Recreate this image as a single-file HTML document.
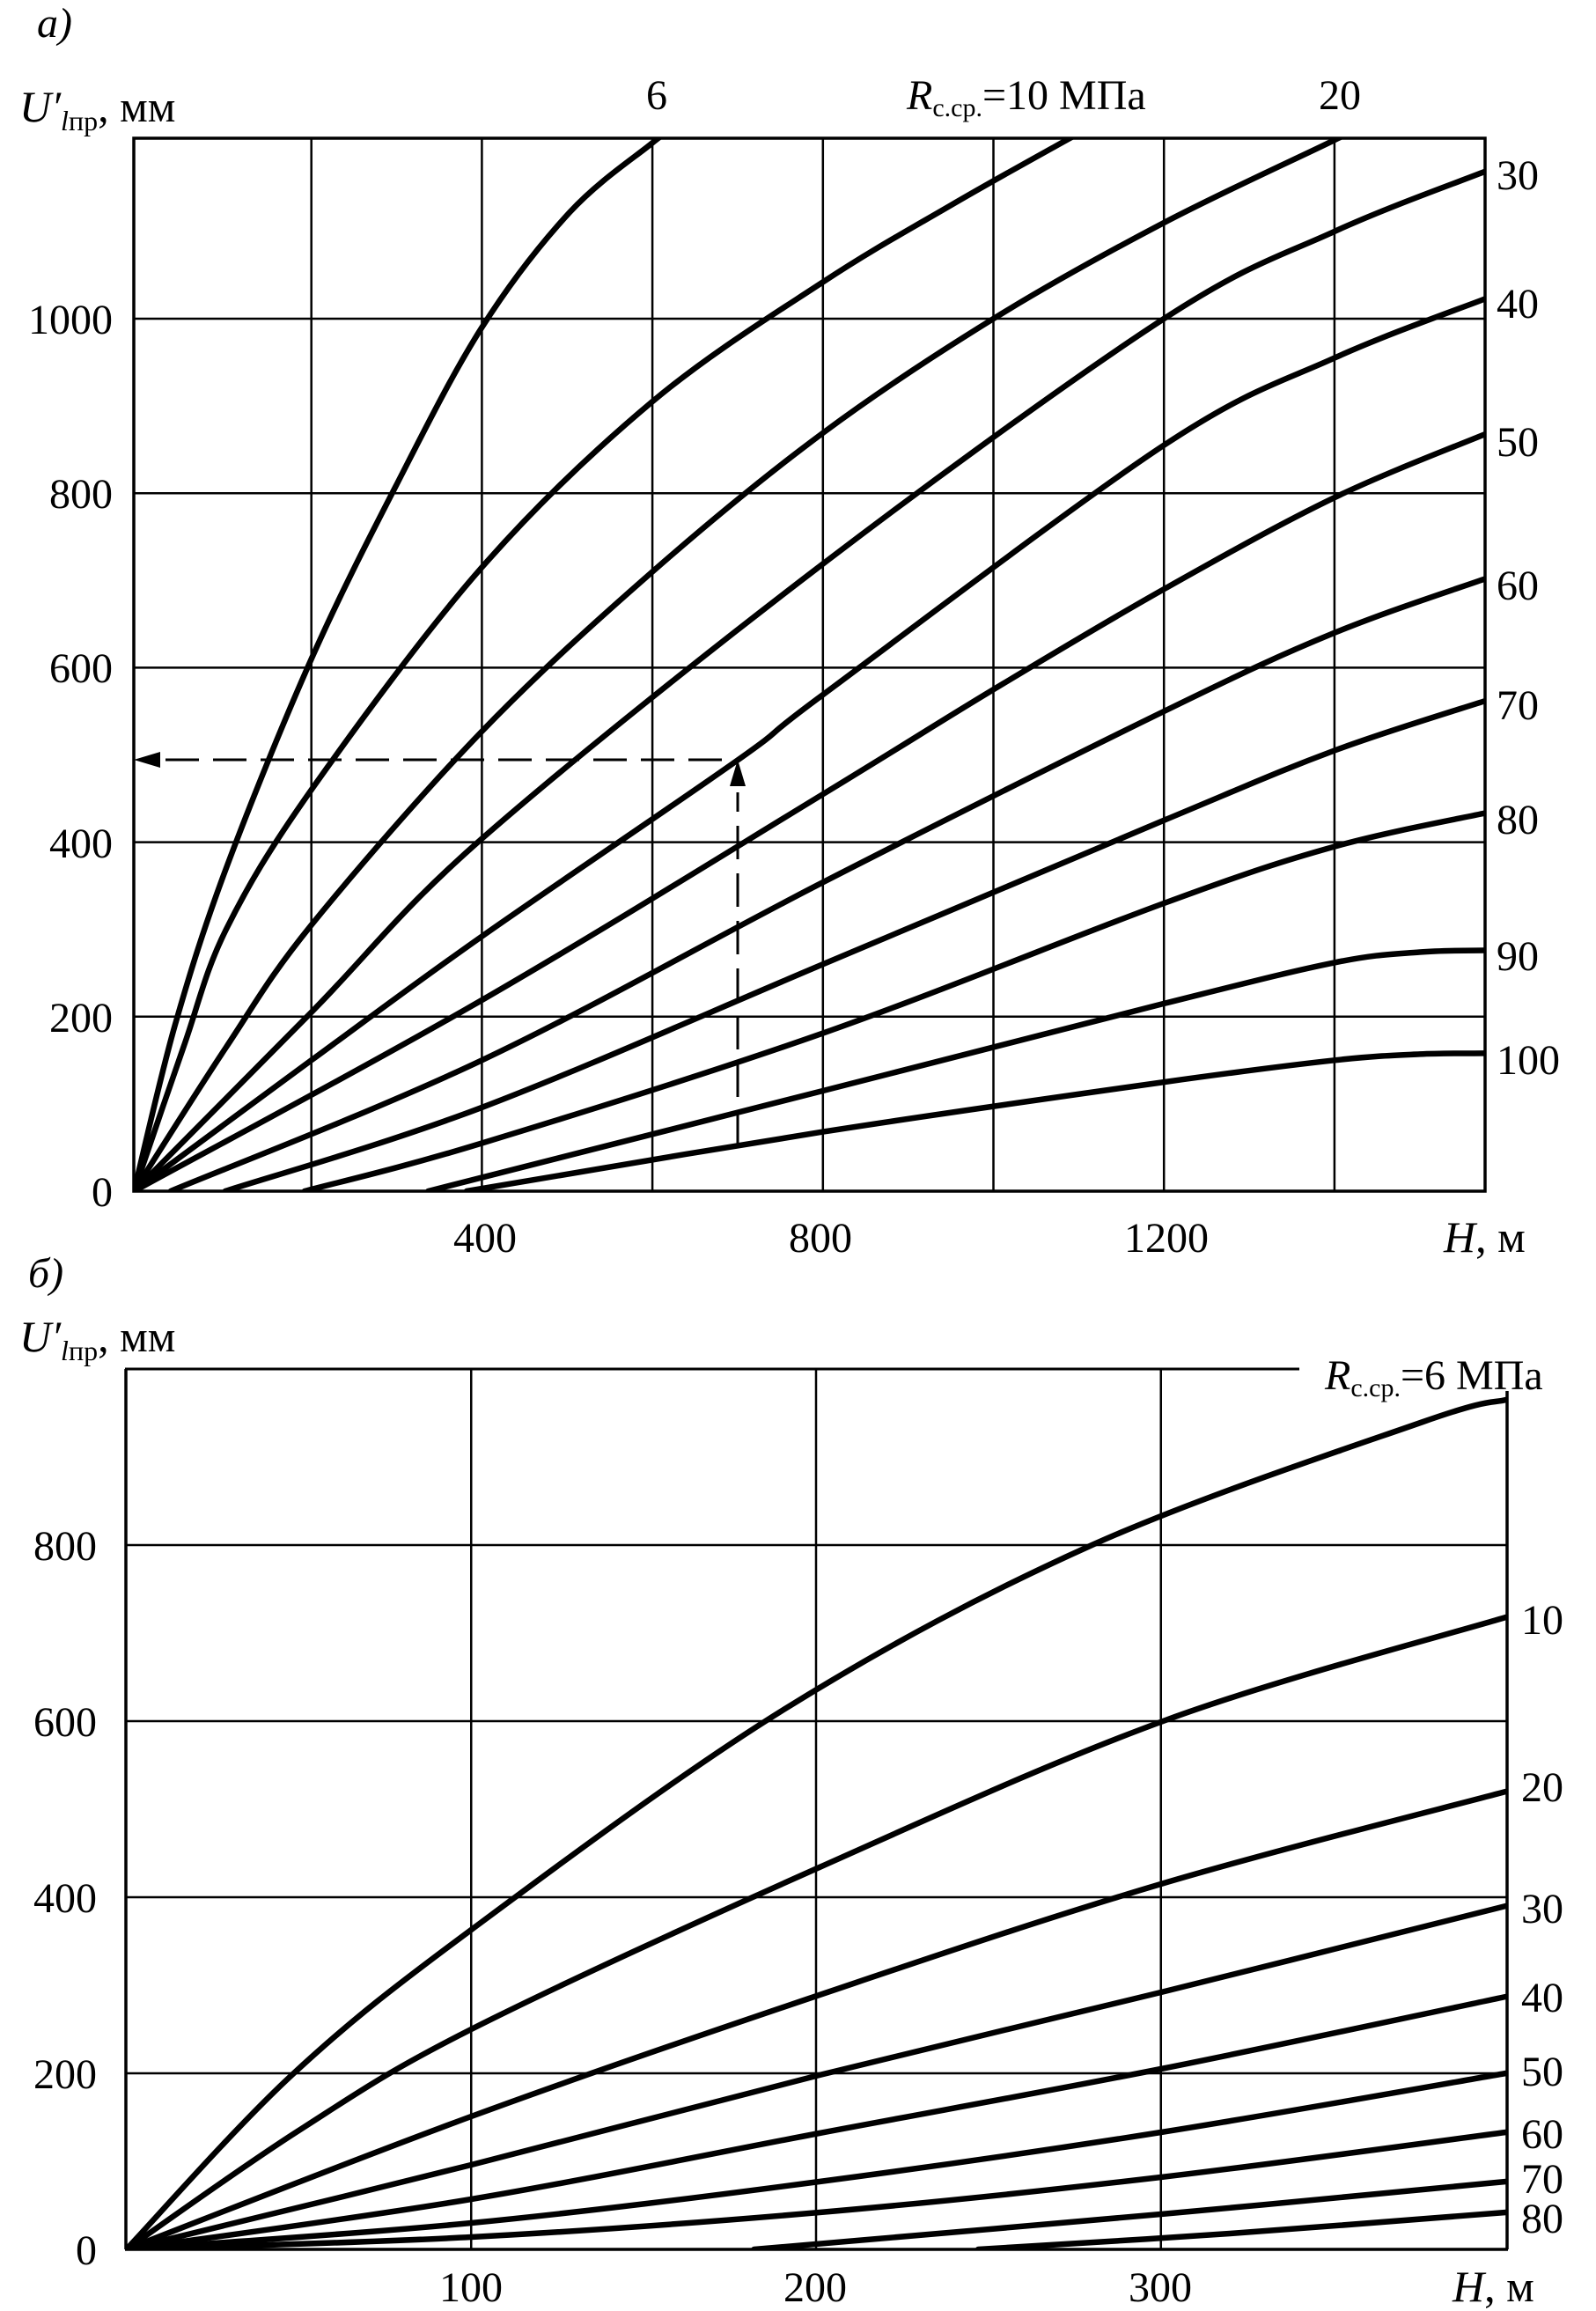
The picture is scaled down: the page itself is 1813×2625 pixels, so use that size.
<!DOCTYPE html>
<html><head><meta charset="utf-8"><style>
html,body{margin:0;padding:0;background:#fff}
svg{display:block}
text{font-family:"Liberation Serif",serif;fill:#000}
</style></head><body>
<svg id="s" width="1813" height="2625" viewBox="0 0 1813 2625" xmlns="http://www.w3.org/2000/svg">
<defs>
<clipPath id="ca"><rect x="152" y="157" width="1535" height="1196"/></clipPath>
<clipPath id="cb"><rect x="143" y="1555" width="1569" height="1000"/></clipPath>
</defs>
<rect width="1813" height="2625" fill="#fff"/>
<g id="grid" stroke="#000" fill="none"></g>
<g id="curves" stroke="#000" fill="none" stroke-width="6.5" stroke-linejoin="round" stroke-linecap="round"></g>

<g stroke="#000" stroke-width="3" fill="none" stroke-dasharray="38,16">
<line x1="838" y1="1300" x2="838" y2="900"/>
<line x1="820" y1="863" x2="185" y2="863"/>
</g>
<polygon points="838,863 829,893 847,893" fill="#000"/>
<polygon points="152,863 182,854 182,872" fill="#000"/>

<text x="42" y="42" font-size="48" font-style="italic">а)</text>
<text x="22" y="138" font-size="50"><tspan font-style="italic">U′</tspan><tspan font-size="32" dy="10"><tspan font-style="italic">l</tspan>пр</tspan><tspan dy="-10">, мм</tspan></text>
<text x="746" y="124" font-size="48" text-anchor="middle">6</text>
<text x="1030" y="124" font-size="48"><tspan font-style="italic">R</tspan><tspan font-size="30" dy="8">с.ср.</tspan><tspan dy="-8">=10 МПа</tspan></text>
<text x="1522" y="124" font-size="48" text-anchor="middle">20</text>
<g font-size="48" text-anchor="end">
<text x="128" y="1370">0</text>
<text x="128" y="1172">200</text>
<text x="128" y="974">400</text>
<text x="128" y="775">600</text>
<text x="128" y="577">800</text>
<text x="128" y="379">1000</text>
</g>
<g font-size="48" text-anchor="middle">
<text x="551" y="1422">400</text>
<text x="932" y="1422">800</text>
<text x="1325" y="1422">1200</text>
</g>
<text x="1640" y="1422" font-size="50"><tspan font-style="italic">H</tspan>, м</text>
<g font-size="48">
<text x="1700" y="215">30</text>
<text x="1700" y="361">40</text>
<text x="1700" y="518">50</text>
<text x="1700" y="681">60</text>
<text x="1700" y="817">70</text>
<text x="1700" y="947">80</text>
<text x="1700" y="1102">90</text>
<text x="1700" y="1220">100</text>
</g>

<text x="32" y="1462" font-size="48" font-style="italic">б)</text>
<text x="22" y="1535" font-size="50"><tspan font-style="italic">U′</tspan><tspan font-size="32" dy="10"><tspan font-style="italic">l</tspan>пр</tspan><tspan dy="-10">, мм</tspan></text>
<text x="1505" y="1578" font-size="48"><tspan font-style="italic">R</tspan><tspan font-size="30" dy="8">с.ср.</tspan><tspan dy="-8">=6 МПа</tspan></text>
<g font-size="48" text-anchor="end">
<text x="110" y="2572">0</text>
<text x="110" y="2372">200</text>
<text x="110" y="2172">400</text>
<text x="110" y="1972">600</text>
<text x="110" y="1772">800</text>
</g>
<g font-size="48" text-anchor="middle">
<text x="535" y="2614">100</text>
<text x="926" y="2614">200</text>
<text x="1318" y="2614">300</text>
</g>
<text x="1650" y="2614" font-size="50"><tspan font-style="italic">H</tspan>, м</text>
<g font-size="48">
<text x="1728" y="1856">10</text>
<text x="1728" y="2046">20</text>
<text x="1728" y="2184">30</text>
<text x="1728" y="2285">40</text>
<text x="1728" y="2369">50</text>
<text x="1728" y="2440">60</text>
<text x="1728" y="2491">70</text>
<text x="1728" y="2536">80</text>
</g>
</svg>
<script>
(function(){
var NS="http://www.w3.org/2000/svg";
var grid=document.getElementById('grid'),cv=document.getElementById('curves');
function el(p,tag,a){var e=document.createElementNS(NS,tag);for(var k in a)e.setAttribute(k,a[k]);p.appendChild(e);return e;}
function ln(x1,y1,x2,y2,w){el(grid,'line',{x1:x1,y1:y1,x2:x2,y2:y2,'stroke-width':w});}
var XA=function(h){return 160+0.9685*h;},YA=function(u){return 1353-0.991*u;};
[200,400,600,800,1000,1200,1400].forEach(function(h){ln(XA(h),157,XA(h),1353,2.5);});
[200,400,600,800,1000].forEach(function(u){ln(152,YA(u),1687,YA(u),2.5);});
el(grid,'rect',{x:152,y:157,width:1535,height:1196,'stroke-width':3.5});
var XB=function(h){return 143.5+3.9175*h;},YB=function(u){return 2555-u;};
[100,200,300].forEach(function(h){ln(XB(h),1555,XB(h),2555,2.5);});
[200,400,600,800].forEach(function(u){ln(143,YB(u),1712,YB(u),2.5);});
ln(143,1555,143,2555,3.5);ln(142,2555,1713,2555,3.5);ln(142,1555,1476,1555,3);ln(1712,1580,1712,2555,3.5);
function path(pts,X,Y,clip){
 var P=pts.map(function(p){return [X(p[0]),Y(p[1])];});
 var d='M'+P[0][0].toFixed(1)+','+P[0][1].toFixed(1);
 for(var i=0;i<P.length-1;i++){
  var p0=P[i-1]||P[i],p1=P[i],p2=P[i+1],p3=P[i+2]||P[i+1];
  var c1=[p1[0]+(p2[0]-p0[0])/6,p1[1]+(p2[1]-p0[1])/6];
  var c2=[p2[0]-(p3[0]-p1[0])/6,p2[1]-(p3[1]-p1[1])/6];
  d+=' C'+c1[0].toFixed(1)+','+c1[1].toFixed(1)+' '+c2[0].toFixed(1)+','+c2[1].toFixed(1)+' '+p2[0].toFixed(1)+','+p2[1].toFixed(1);
 }
 el(cv,'path',{d:d,'clip-path':'url(#'+clip+')'});
}
var A=[
[[-8,0],[40,190],[100,370],[200,610],[300,810],[400,990],[503,1122],[598,1200],[620,1215]],
[[-8,0],[50,165],[100,300],[200,460],[400,715],[600,905],[800,1042],[950,1130],[1077,1200],[1100,1212]],
[[-8,0],[100,165],[200,305],[400,527],[600,710],[800,869],[1000,1000],[1200,1110],[1390,1200],[1410,1210]],
[[-8,0],[200,205],[400,404],[800,719],[1200,1000],[1400,1100],[1580,1170]],
[[-8,0],[200,150],[400,292],[700,494],[800,569],[1200,855],[1400,955],[1580,1024]],
[[-8,0],[400,219],[800,455],[1000,575],[1200,690],[1400,795],[1580,869]],
[[35,0],[400,150],[800,354],[1200,550],[1400,640],[1580,703]],
[[99,0],[400,96],[800,260],[1200,425],[1400,505],[1580,563]],
[[192,0],[400,55],[800,181],[1200,330],[1400,395],[1580,434]],
[[337,0],[800,115],[1200,215],[1400,262],[1500,274],[1580,276]],
[[382,0],[800,68],[1200,125],[1400,150],[1500,157],[1580,158]]
];
A.forEach(function(c){path(c,XA,YA,'ca');});
var B=[
[[0,0],[48,198],[100,363],[191,614],[280,800],[376,940],[400,965]],
[[0,0],[50,135],[100,250],[201,434],[302,602],[400,718]],
[[0,0],[100,151],[201,289],[300,415],[400,520]],
[[0,0],[100,96],[201,198],[300,292],[400,390]],
[[0,0],[100,57],[201,132],[300,205],[400,287]],
[[0,0],[100,30],[201,77],[300,133],[400,200]],
[[0,0],[100,14],[201,42],[300,82],[400,133]],
[[182,0],[300,40],[400,77]],
[[247,0],[320,18],[400,42]]
];
B.forEach(function(c){path(c,XB,YB,'cb');});
})();
</script>
</body></html>
